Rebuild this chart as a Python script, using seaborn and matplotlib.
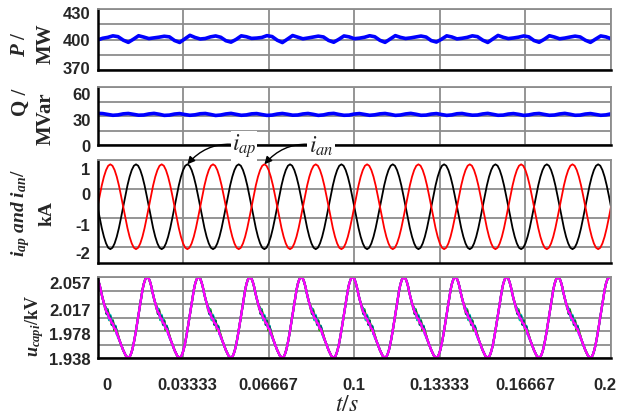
import numpy as np
import pandas as pd
import matplotlib
matplotlib.use("Agg")
import matplotlib.pyplot as plt
import seaborn as sns
from matplotlib.transforms import ScaledTranslation

# ---------------- data ----------------
x_ticks = [0, 0.03333, 0.06667, 0.1, 0.13333, 0.16667, 0.2]
x_tick_labels = ["0", "0.03333", "0.06667", "0.1", "0.13333", "0.16667", "0.2"]

p_ticks = [370, 385, 400, 415, 430]
p_tick_labels = ["370", "", "400", "", "430"]
q_ticks = [0, 15, 30, 45, 60]
q_tick_labels = ["0", "", "30", "", "60"]
i_ticks = [-2, -1, 0, 1]
i_tick_labels = ["-2", "-1", "0", "1"]
u_ticks = [1.938, 1.9578, 1.9777, 1.9975, 2.0173, 2.0372, 2.057]
u_tick_labels = ["1.938", "", "1.978", "", "2.017", "", "2.057"]

# active power P (MW), sampled every 2 ms
P_step = 0.002
P_MW = [399.5, 401.2, 402.1, 403.6, 402.8, 399.4, 397.2, 400.3, 403.7, 402.4,
        400.9, 401.6, 402.3, 403.2, 402.6, 399.0, 397.1, 400.6, 404.1, 402.0,
        400.5, 401.0, 402.6, 403.5, 402.2, 398.8, 397.4, 400.1, 403.6, 402.7,
        401.1, 401.4, 402.0, 403.8, 402.9, 399.3, 397.0, 400.4, 403.9, 402.3,
        400.7, 401.5, 402.4, 403.3, 402.5, 399.1, 397.3, 400.2, 403.5, 402.6,
        400.8, 401.3, 402.2, 403.7, 402.7, 399.2, 397.2, 400.5, 403.8, 402.1,
        401.0, 401.6, 402.5, 403.4, 402.4, 398.9, 397.5, 400.3, 403.6, 402.5,
        400.6, 401.2, 402.1, 403.6, 402.8, 399.4, 397.1, 400.6, 404.0, 402.2,
        400.9, 401.5, 402.3, 403.5, 402.6, 399.0, 397.3, 400.2, 403.7, 402.4,
        400.7, 401.4, 402.4, 403.3, 402.5, 399.3, 397.2, 400.4, 403.5, 402.6,
        400.8]

# reactive power Q (MVar), sampled every 2 ms
Q_step = 0.002
Q_MVar = [33.0, 32.8, 31.9, 31.0, 31.4, 32.5, 32.9, 32.0, 31.1, 31.3,
          32.4, 33.0, 32.1, 30.9, 31.2, 32.3, 32.8, 31.8, 31.0, 31.5,
          32.6, 32.9, 31.9, 30.8, 31.3, 32.4, 33.0, 32.0, 31.0, 31.4,
          32.5, 32.8, 31.8, 30.9, 31.2, 32.3, 32.9, 32.1, 31.1, 31.3,
          32.4, 32.9, 32.0, 30.9, 31.4, 32.6, 33.0, 31.9, 31.0, 31.2,
          32.3, 32.8, 31.9, 31.0, 31.5, 32.5, 32.9, 32.0, 30.9, 31.3,
          32.4, 33.0, 32.1, 31.0, 31.2, 32.3, 32.8, 31.8, 30.9, 31.4,
          32.6, 32.9, 31.9, 31.1, 31.3, 32.4, 33.0, 32.0, 31.0, 31.2,
          32.3, 32.8, 32.0, 30.9, 31.4, 32.5, 32.9, 31.9, 31.0, 31.3,
          32.4, 33.0, 32.1, 31.0, 31.2, 32.3, 32.8, 31.9, 31.0, 31.4,
          32.5]

# arm currents (kA), one 20 ms cycle sampled 24 times, repeated for 10 cycles
i_cycles = 10
i_an_cycle = [-0.62, -0.24, 0.12, 0.42, 0.65, 0.80, 0.85, 0.80, 0.65, 0.42, 0.12, -0.24,
              -0.62, -1.00, -1.36, -1.66, -1.89, -2.04, -2.09, -2.04, -1.89, -1.66, -1.36, -1.00]
i_ap_cycle = [-0.62, -1.00, -1.36, -1.66, -1.89, -2.04, -2.09, -2.04, -1.89, -1.66, -1.36, -1.00,
              -0.62, -0.24, 0.12, 0.42, 0.65, 0.80, 0.85, 0.80, 0.65, 0.42, 0.12, -0.24]

# sub-module capacitor voltage (kV), one 20 ms cycle sampled every 0.5 ms
u_cycles = 10
u_cap_cycle = [2.055, 2.050, 2.043, 2.034, 2.026, 2.019, 2.012, 2.006, 2.004, 1.997,
               1.996, 1.990, 1.989, 1.982, 1.981, 1.975, 1.970, 1.965, 1.960, 1.955,
               1.950, 1.946, 1.942, 1.940, 1.939, 1.940, 1.944, 1.950, 1.958, 1.968,
               1.979, 1.991, 2.003, 2.015, 2.027, 2.038, 2.047, 2.053, 2.057, 2.057]
# deviations of the other sub-modules during the staircase part of the cycle
sm_dev_blue = [0.002, 0.005, -0.003, 0.004, -0.002, 0.005, -0.003, 0.003, 0.004, -0.002, 0.002, 0.0]
sm_dev_green = [-0.002, 0.003, 0.006, -0.003, 0.004, 0.001, 0.005, -0.003, 0.003, 0.004, 0.001, 0.0]
sm_dev_orange = [0.003, -0.002, 0.004, 0.006, -0.003, 0.004, 0.002, 0.005, -0.002, 0.003, 0.002, 0.0]
sm_dev_cyan = [0.001, 0.004, 0.002, -0.003, 0.006, 0.004, -0.002, 0.004, 0.005, 0.001, -0.002, 0.0]
sm_dev_teal = [0.002, -0.003, 0.004, 0.002, 0.004, -0.003, 0.004, 0.001, 0.004, 0.002, 0.001, 0.0]

# ---------------- style ----------------
sns.set_style("white")
plt.rcParams.update({
    "font.family": ["Liberation Sans", "DejaVu Sans"],
    "mathtext.fontset": "custom",
    "mathtext.rm": "Liberation Serif:bold",
    "mathtext.it": "Liberation Serif:italic:bold",
    "mathtext.bf": "Liberation Serif:bold",
})

W_PX, H_PX = 633, 419
fig = plt.figure(figsize=(W_PX / 100, H_PX / 100), dpi=100)
L_PX, R_PX = 97.5, 611


def rect(top, bottom):
    return [L_PX / W_PX, 1 - bottom / H_PX, (R_PX - L_PX) / W_PX, (bottom - top) / H_PX]


ax1 = fig.add_axes(rect(9, 70))
ax2 = fig.add_axes(rect(87.5, 145))
ax3 = fig.add_axes(rect(160, 263.3))
ax4 = fig.add_axes(rect(277.3, 358.3))

GRID = "#8c8c8c"


def style(ax, yt, ylabels, ylim, show_x):
    ax.set_xlim(0, 0.2)
    ax.set_ylim(*ylim)
    ax.set_xticks(x_ticks)
    ax.set_xticklabels(x_tick_labels if show_x else [""] * len(x_ticks))
    ax.set_yticks(yt)
    ax.set_yticklabels(ylabels)
    ax.grid(True, color=GRID, lw=1.3)
    ax.set_axisbelow(True)
    for s in ["top", "right"]:
        ax.spines[s].set_color(GRID)
        ax.spines[s].set_linewidth(1.3)
    for s in ["left", "bottom"]:
        ax.spines[s].set_color("black")
        ax.spines[s].set_linewidth(1.8)
    ax.tick_params(length=0, labelsize=12, pad=5)
    for lab in ax.get_yticklabels() + ax.get_xticklabels():
        lab.set_fontweight("bold")
    ax.set_xlabel("")
    ax.set_ylabel("")


def shift_y_labels(ax, offsets_px):
    for lab, dy in zip(ax.get_yticklabels(), offsets_px):
        lab.set_transform(lab.get_transform() + ScaledTranslation(0, -dy / 100, fig.dpi_scale_trans))


# P
tP = np.arange(len(P_MW)) * P_step
sns.lineplot(x=tP, y=P_MW, ax=ax1, color="#0000ff", linewidth=2.6, estimator=None, sort=False)
style(ax1, p_ticks, p_tick_labels, (370, 430), False)
shift_y_labels(ax1, [-2.5, 0, 0, 0, 3.5])

# Q
tQ = np.arange(len(Q_MVar)) * Q_step
sns.lineplot(x=tQ, y=Q_MVar, ax=ax2, color="#0000ff", linewidth=2.6, estimator=None, sort=False)
style(ax2, q_ticks, q_tick_labels, (0, 60), False)
shift_y_labels(ax2, [1, 0, 4, 0, 6])

# currents
i_an = np.tile(i_an_cycle, i_cycles)
i_ap = np.tile(i_ap_cycle, i_cycles)
i_an = np.append(i_an, i_an_cycle[0])
i_ap = np.append(i_ap, i_ap_cycle[0])
tI = np.arange(len(i_an)) * (0.02 / len(i_an_cycle))
df_i = pd.DataFrame({"t": np.concatenate([tI, tI]),
                     "i": np.concatenate([i_ap, i_an]),
                     "arm": ["ap"] * len(tI) + ["an"] * len(tI)})
sns.lineplot(data=df_i, x="t", y="i", hue="arm", palette={"ap": "black", "an": "#ff0000"},
             ax=ax3, linewidth=1.3, estimator=None, sort=False, legend=False)
style(ax3, i_ticks, i_tick_labels, (-2.58, 1.0), False)
shift_y_labels(ax3, [6, 7, 5, 9])

# capacitor voltages
n_u = len(u_cap_cycle)
tU = np.arange(n_u * u_cycles + 1) * (0.02 / n_u)
base = np.append(np.tile(u_cap_cycle, u_cycles), u_cap_cycle[0])
others = [("#0000ff", sm_dev_blue), ("#00a000", sm_dev_green), ("#ff9900", sm_dev_orange),
          ("#00c8c8", sm_dev_cyan), ("#006060", sm_dev_teal)]
for col, dev in others:
    dev_cycle = np.zeros(n_u)
    dev_cycle[6:6 + len(dev)] = dev
    u_sm = base + np.append(np.tile(dev_cycle, u_cycles), 0.0)
    sns.lineplot(x=tU, y=u_sm, ax=ax4, color=col, linewidth=1.5, estimator=None, sort=False)
sns.lineplot(x=tU, y=base, ax=ax4, color="#ff00ff", linewidth=1.7, estimator=None, sort=False)
style(ax4, u_ticks, u_tick_labels, (1.938, 2.057), True)
shift_y_labels(ax4, [1, 0, 3, 0, 5.5, 0, 6])
ax4.tick_params(axis="x", pad=14)
x_offsets = [9, 4, 0, 0, 0, 0, -6]
for lab, dx in zip(ax4.get_xticklabels(), x_offsets):
    lab.set_transform(lab.get_transform() + ScaledTranslation(dx / 100, 0, fig.dpi_scale_trans))

# annotations
for txt, xy, pos in [(r"$i_{ap}$", (0.035, 0.85), (244, H_PX - 146)),
                     (r"$i_{an}$", (0.065, 0.85), (321, H_PX - 146))]:
    ax3.annotate(txt, xy=xy, xycoords="data", xytext=pos, textcoords="figure pixels",
                 fontsize=17, math_fontfamily="stix", ha="center", va="center",
                 bbox=dict(boxstyle="square,pad=0.05", fc="white", ec="none"),
                 arrowprops=dict(arrowstyle="-|>", color="black", lw=1.0,
                                 connectionstyle="arc3,rad=0.3", shrinkA=0, shrinkB=0,
                                 mutation_scale=11),
                 annotation_clip=False)

# axis labels
def ylab(x, y, s, size=14.5):
    fig.text(x / W_PX, 1 - y / H_PX, s, rotation=90, ha="center", va="center",
             family="Liberation Serif", weight="bold", fontsize=size)


ylab(20.5, 44, r"$P$ /", 15)
ylab(46, 44, "MW", 15)
ylab(20.5, 102, "Q /", 15)
ylab(46, 119, "MVar", 15)
ylab(20.5, 213, r"$i_{ap}\ and\ i_{an}/$", 14)
ylab(47.5, 213, "kA", 14)
ylab(35, 326, r"$u_{capi}$/kV", 13)

fig.text(347 / W_PX, 1 - 405 / H_PX, r"$t/s$", math_fontfamily="stix", fontsize=17,
         ha="center", va="center")

fig.savefig("out.png", dpi=100)
